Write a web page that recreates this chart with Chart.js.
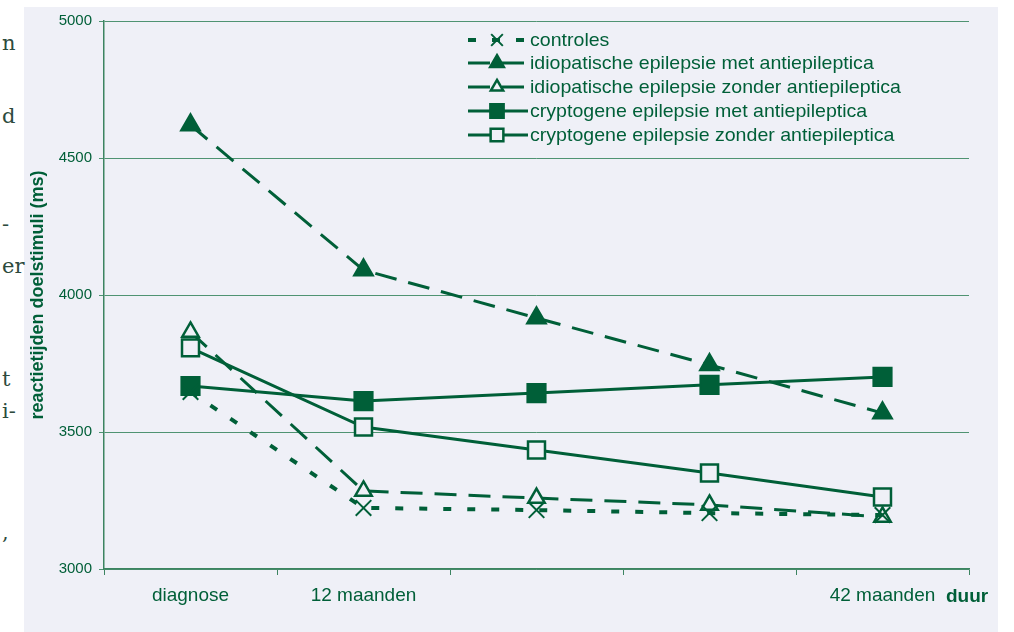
<!DOCTYPE html>
<html>
<head>
<meta charset="utf-8">
<script src="https://cdn.jsdelivr.net/npm/chart.js@4.4.1/dist/chart.umd.min.js"></script>
<style>
  html, body { margin: 0; padding: 0; background: #ffffff; }
  body { width: 1014px; height: 632px; position: relative; overflow: hidden; }
  #panel { position: absolute; left: 24px; top: 7px; width: 974px; height: 625px; background: #eff0f7; }
  #wrap { position: absolute; left: 0; top: 0; width: 984px; height: 632px; }
  .frag { position: absolute; left: 2px; font-family: "DejaVu Serif", "Liberation Serif", serif; font-size: 21px; color: #2d4a3c; line-height: 1; }
  #duur { position: absolute; left: 946px; top: 585px; font: bold 19px "Liberation Sans", Arial, sans-serif; color: #005f38; }
</style>
</head>
<body>
<div id="panel"></div>
<span class="frag" style="top:33px">n</span>
<span class="frag" style="top:106px">d</span>
<span class="frag" style="top:214px">-</span>
<span class="frag" style="top:256px">er</span>
<span class="frag" style="top:369px">t</span>
<span class="frag" style="top:401px">i-</span>
<span class="frag" style="top:522px">,</span>
<div id="wrap"><canvas id="chart" width="984" height="632"></canvas></div>
<span id="duur">duur</span>
<script>
const categories = ['diagnose', '12 maanden', '', '', '42 maanden'];
const controles = [3646, 3223, 3215, 3204, 3197];
const idioMet = [4620, 4091, 3916, 3745, 3569];
const idioZonder = [3865, 3285, 3259, 3234, 3190];
const cryptoMet = [3668, 3613, 3642, 3672, 3701];
const cryptoZonder = [3807, 3518, 3434, 3350, 3263];
const seriesLabels = [
  'controles',
  'idiopatische epilepsie met antiepileptica',
  'idiopatische epilepsie zonder antiepileptica',
  'cryptogene epilepsie met antiepileptica',
  'cryptogene epilepsie zonder antiepileptica'
];
const yTicks = [3000, 3500, 4000, 4500, 5000];

const green = '#005f38';
const bg = '#eff0f7';
const sans = '"Liberation Sans", Arial, sans-serif';

// legend drawn inside the plot, like the scanned figure
const plotLegend = {
  id: 'plotLegend',
  afterDatasetsDraw(chart) {
    const ctx = chart.ctx;
    const x0 = 468, x1 = 528, mx = 497, tx = 530;
    const rows = [40, 63, 87, 111, 135];
    chart.data.datasets.forEach((ds, i) => {
      const y = rows[i];
      const pt = { pointStyle: ds.pointStyle, radius: ds.pointRadius * 0.75, borderWidth: ds.pointBorderWidth };
      ctx.save();
      ctx.strokeStyle = ds.borderColor;
      ctx.lineWidth = ds.borderWidth;
      ctx.setLineDash(ds.borderDash || []);
      ctx.beginPath();
      ctx.moveTo(x0, y);
      ctx.lineTo(x1, y);
      ctx.stroke();
      ctx.setLineDash([]);
      ctx.fillStyle = ds.pointBackgroundColor;
      ctx.lineWidth = ds.pointBorderWidth;
      Chart.helpers.drawPoint(ctx, pt, mx, y);
      ctx.restore();

      ctx.save();
      ctx.fillStyle = green;
      ctx.font = '19px ' + sans;
      ctx.textBaseline = 'middle';
      ctx.translate(tx, y + 1);
      ctx.scale(1.03, 1);
      ctx.fillText(ds.label, 0, 0);
      ctx.restore();
    });
  }
};

const mk = (label, data, style, filled, dash, radius) => ({
  label,
  data,
  borderColor: green,
  borderWidth: 3,
  borderDash: dash,
  pointStyle: style,
  pointRadius: radius,
  pointHoverRadius: radius,
  pointBorderWidth: 2.5,
  pointBorderColor: green,
  pointBackgroundColor: filled ? green : bg,
  fill: false,
  tension: 0
});

const datasets = [
  Object.assign(mk(seriesLabels[0], controles, 'crossRot', false, [8, 16], 11), { borderWidth: 4, pointBorderWidth: 2 }),
  mk(seriesLabels[1], idioMet, 'triangle', true, [22, 12], 10.5),
  mk(seriesLabels[2], idioZonder, 'triangle', false, [22, 12], 9.5),
  mk(seriesLabels[3], cryptoMet, 'rect', true, [], 12.5),
  mk(seriesLabels[4], cryptoZonder, 'rect', false, [], 12)
];

new Chart(document.getElementById('chart').getContext('2d'), {
  type: 'line',
  data: { labels: categories, datasets },
  plugins: [plotLegend],
  options: {
    responsive: false,
    animation: false,
    layout: { padding: { top: 21, right: 0, left: 0, bottom: 0 } },
    plugins: {
      legend: { display: false },
      tooltip: { enabled: false }
    },
    scales: {
      x: {
        offset: true,
        afterFit: (scale) => { scale.height = 63; },
        grid: { drawOnChartArea: false, offset: true, tickLength: 6, color: '#3c8461', lineWidth: 1 },
        border: { display: true, color: '#3c8461', width: 1.5 },
        ticks: {
          color: green,
          padding: 9,
          maxRotation: 0,
          autoSkip: false,
          font: { family: sans, size: 19 }
        }
      },
      y: {
        min: 3000,
        max: 5000,
        afterFit: (scale) => { scale.width = 104; },
        afterBuildTicks: (scale) => { scale.ticks = yTicks.map(v => ({ value: v })); },
        grid: { color: '#4f9372', lineWidth: 1, tickLength: 5 },
        border: { display: true, color: '#3c8461', width: 1.5 },
        ticks: {
          color: green,
          padding: 7,
          callback: (v) => String(v),
          font: { family: sans, size: 15 }
        },
        title: {
          display: true,
          text: 'reactietijden doelstimuli (ms)',
          color: green,
          padding: { top: 27, bottom: 0 },
          font: { family: sans, size: 18, weight: 'bold' }
        }
      }
    }
  }
});
</script>
</body>
</html>
